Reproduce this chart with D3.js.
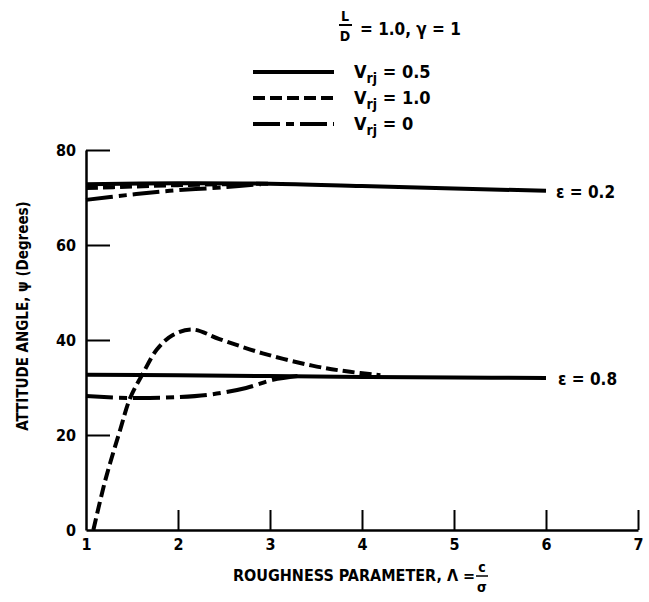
<!DOCTYPE html>
<html>
<head>
<meta charset="utf-8">
<script src="https://cdn.jsdelivr.net/npm/d3@7"></script>
<style>
  body { margin: 0; background: #fff; }
  svg text { font-family: "DejaVu Sans Condensed", "Liberation Sans Narrow", sans-serif; font-weight: bold; fill: #000; }
</style>
</head>
<body>
<svg class="chart"></svg>
<script>
// tick labels
var xTicks = [1, 2, 3, 4, 5, 6, 7];
var yTicks = [0, 20, 40, 60, 80];

// eps = 0.2 curves
var e02SolidX = [1, 2, 3, 4, 5, 6];
var e02SolidY = [72.8, 73.0, 72.9, 72.4, 71.9, 71.4];
var e02ShortX = [1, 1.5, 2, 2.5, 3];
var e02ShortY = [72.0, 72.3, 72.6, 72.8, 72.9];
var e02LongX = [1, 1.44, 1.91, 2.53, 2.9];
var e02LongY = [69.5, 70.5, 71.4, 72.2, 72.8];

// eps = 0.8 curves
var e08SolidX = [1, 2, 3, 4, 5, 6];
var e08SolidY = [32.7, 32.6, 32.4, 32.2, 32.1, 32.0];
var e08ShortX = [1.08, 1.21, 1.37, 1.48, 1.62, 1.77, 1.94, 2.16, 2.45, 2.92, 3.46, 3.83, 4.2];
var e08ShortY = [0, 10.5, 21, 27.8, 33, 38, 41, 42.2, 40.2, 37.2, 34.6, 33.4, 32.6];
var e08LongX = [1, 1.48, 2.02, 2.38, 2.74, 3.03, 3.3];
var e08LongY = [28.2, 27.8, 28.0, 28.6, 29.9, 31.6, 32.4];

var legendNames = ["0.5", "1.0", "0"];
var dashes = {solid: null, shortDash: "12,5", longDash: "27,6,8,6"};

var svg = d3.select(".chart").attr("width", 649).attr("height", 602);

var xRange = d3.scaleLinear().domain([1, 7]).range([86, 638]);
var yRange = d3.scaleLinear().domain([0, 80]).range([530, 150]);

// axes
var xAxis = svg.append("g")
        .attr("transform", "translate(0,530)")
        .call(d3.axisBottom(xRange).tickValues(xTicks).tickFormat(d3.format("d"))
                .tickSizeInner(-20).tickSizeOuter(0).tickPadding(9));
var yAxis = svg.append("g")
        .attr("transform", "translate(86,0)")
        .call(d3.axisLeft(yRange).tickValues(yTicks).tickFormat(d3.format("d"))
                .tickSizeInner(-24).tickSizeOuter(0).tickPadding(10));
[xAxis, yAxis].forEach(function (ax) {
    ax.select(".domain").attr("stroke", "#000").attr("stroke-width", 2.5);
    ax.selectAll(".tick line").attr("stroke", "#000").attr("stroke-width", 2);
    ax.selectAll(".tick text").style("font-size", "16px").attr("fill", "#000");
});
yAxis.selectAll(".tick").filter(function (d) { return d === 0; }).select("line").remove();
xAxis.selectAll(".tick").filter(function (d) { return d === 1; }).select("line").remove();

// curves
var line = d3.line()
        .x(function (d) { return xRange(d[0]); })
        .y(function (d) { return yRange(d[1]); })
        .curve(d3.curveCatmullRom.alpha(0.5));

function drawCurve(xs, ys, dash) {
    svg.append("path")
            .datum(d3.zip(xs, ys))
            .attr("d", line)
            .attr("fill", "none")
            .attr("stroke", "#000")
            .attr("stroke-width", 4)
            .attr("stroke-dasharray", dash);
}

drawCurve(e02SolidX, e02SolidY, dashes.solid);
drawCurve(e02ShortX, e02ShortY, dashes.shortDash);
drawCurve(e02LongX, e02LongY, dashes.longDash);
drawCurve(e08SolidX, e08SolidY, dashes.solid);
drawCurve(e08ShortX, e08ShortY, dashes.shortDash);
drawCurve(e08LongX, e08LongY, dashes.longDash);

// epsilon labels
svg.append("text").attr("x", xRange(6) + 10).attr("y", yRange(e02SolidY[5]) + 7)
        .style("font-size", "17px").text("ε = 0.2");
svg.append("text").attr("x", xRange(6) + 12).attr("y", yRange(e08SolidY[5]) + 7)
        .style("font-size", "17px").text("ε = 0.8");

// title block
svg.append("text").attr("x", 345).attr("y", 21).attr("text-anchor", "middle").style("font-size", "14px").text("L");
svg.append("line").attr("x1", 339).attr("x2", 352).attr("y1", 25).attr("y2", 25).attr("stroke", "#000").attr("stroke-width", 2);
svg.append("text").attr("x", 345).attr("y", 41).attr("text-anchor", "middle").style("font-size", "14px").text("D");
svg.append("text").attr("x", 360).attr("y", 35).style("font-size", "17px").text("= 1.0, γ = 1");

// legend
var legendDash = [dashes.solid, dashes.shortDash, dashes.longDash];
legendNames.forEach(function (name, i) {
    var y = 72 + i * 26;
    svg.append("line").attr("x1", 253).attr("x2", 334).attr("y1", y).attr("y2", y)
            .attr("stroke", "#000").attr("stroke-width", 4).attr("stroke-dasharray", legendDash[i]);
    var t = svg.append("text").attr("x", 354).attr("y", y + 6).style("font-size", "18px");
    t.append("tspan").text("V");
    t.append("tspan").attr("dy", 5).style("font-size", "14px").text("rj");
    t.append("tspan").attr("dy", -5).text(" = " + name);
});

// axis titles
svg.append("text").attr("x", 233).attr("y", 581).style("font-size", "16px").text("ROUGHNESS PARAMETER, Λ =");
svg.append("text").attr("x", 482).attr("y", 572).attr("text-anchor", "middle").style("font-size", "14px").text("c");
svg.append("line").attr("x1", 476).attr("x2", 488).attr("y1", 576).attr("y2", 576).attr("stroke", "#000").attr("stroke-width", 1.5);
svg.append("text").attr("x", 482).attr("y", 592).attr("text-anchor", "middle").style("font-size", "14px").text("σ");

svg.append("text").attr("transform", "translate(28,316) rotate(-90)").attr("text-anchor", "middle")
        .style("font-size", "15px").text("ATTITUDE ANGLE, ψ (Degrees)");
</script>
</body>
</html>
